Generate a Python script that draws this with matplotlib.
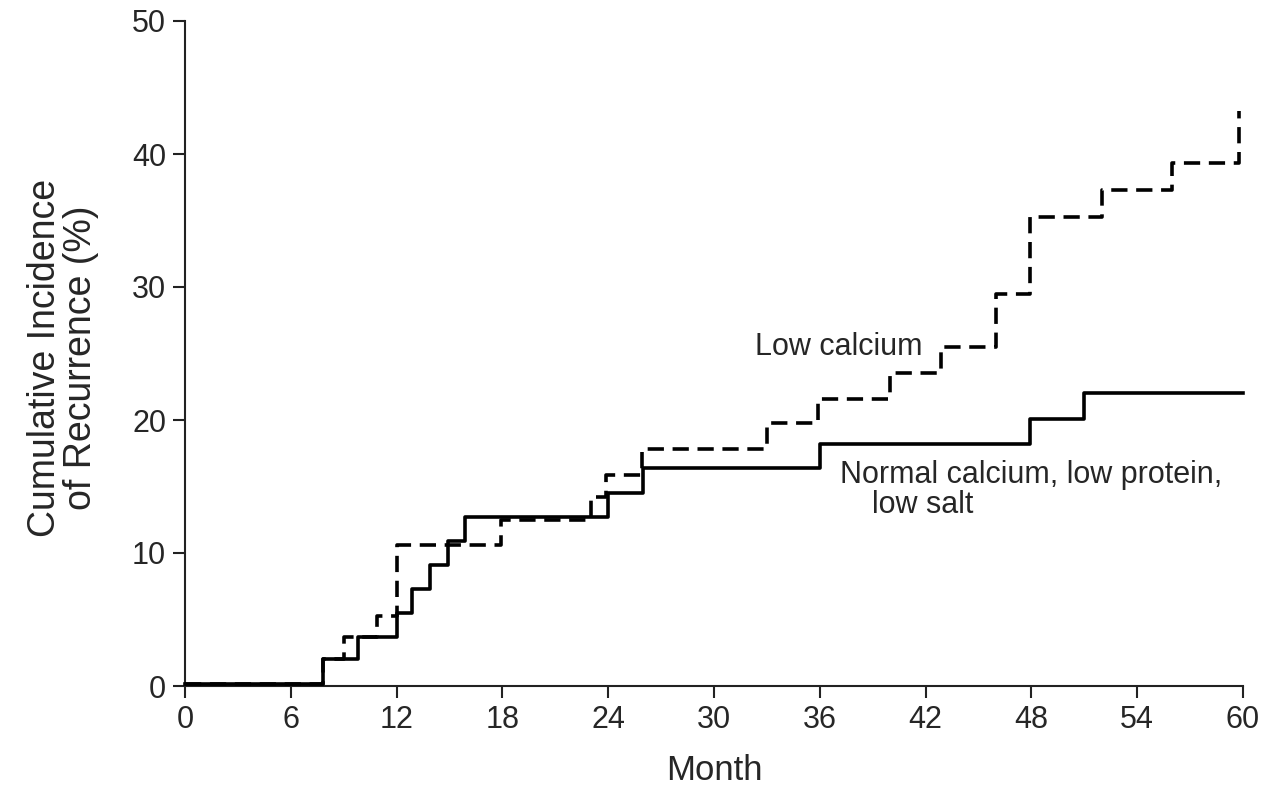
import matplotlib
matplotlib.use("Agg")
import matplotlib.pyplot as plt

plt.rcParams['font.family'] = ['Liberation Sans', 'DejaVu Sans']

# Normal calcium, low protein, low salt (solid)
normal_month = [0, 7.8, 9.8, 12.0, 12.9, 13.9, 14.9, 15.9, 24.0, 26.0, 36.0, 47.9, 51.0, 60.0]
normal_pct = [0.15, 2.0, 3.7, 5.5, 7.3, 9.1, 10.9, 12.7, 14.5, 16.4, 18.2, 20.1, 22.0, 22.0]

# Low calcium (dashed)
low_month = [0, 7.8, 9.0, 10.9, 12.0, 17.9, 23.0, 23.9, 25.9, 33.0, 35.9, 40.0,
             42.9, 46.0, 47.9, 52.0, 56.0, 59.8]
low_pct = [0.15, 2.0, 3.7, 5.3, 10.6, 12.5, 14.2, 15.9, 17.8, 19.8, 21.6, 23.5,
           25.5, 29.5, 35.3, 37.3, 39.3, 43.2]

x_ticks = [0, 6, 12, 18, 24, 30, 36, 42, 48, 54, 60]
y_ticks = [0, 10, 20, 30, 40, 50]

txt = '#262626'

fig = plt.figure(figsize=(12.7, 8.01), dpi=100)
ax = fig.add_axes([185 / 1270, 1 - 686 / 801, (1243 - 185) / 1270, (686 - 21) / 801])

ax.plot(low_month, low_pct, drawstyle='steps-post', color='black',
        lw=2.6, dashes=(4.5, 2.4), zorder=3, clip_on=False)
ax.plot(normal_month, normal_pct, drawstyle='steps-post', color='black',
        lw=2.6, zorder=3, clip_on=False)

ax.set_xlim(0, 60)
ax.set_ylim(0, 50)
ax.set_xticks(x_ticks)
ax.set_yticks(y_ticks)
ax.spines['top'].set_visible(False)
ax.spines['right'].set_visible(False)
for s in ['left', 'bottom']:
    ax.spines[s].set_linewidth(1.5)
    ax.spines[s].set_color('#222222')
ax.tick_params(length=8.5, width=1.5, color='#222222', labelsize=22,
               labelcolor=txt, pad=5)

ax.set_xlabel('Month', fontsize=25, color=txt, labelpad=14)
fig.text(63 / 1270, 1 - 358 / 801, 'Cumulative Incidence\nof Recurrence (%)',
         rotation=90, ha='center', va='center', multialignment='center',
         fontsize=27, color=txt, linespacing=1.0)

ax.text(32.3, 24.9, 'Low calcium', fontsize=22, color=txt, va='baseline')
ax.text(37.15, 15.3, 'Normal calcium, low protein,', fontsize=22, color=txt, va='baseline')
ax.text(38.97, 13.0, 'low salt', fontsize=22, color=txt, va='baseline')

fig.savefig('out.png', dpi=100)
